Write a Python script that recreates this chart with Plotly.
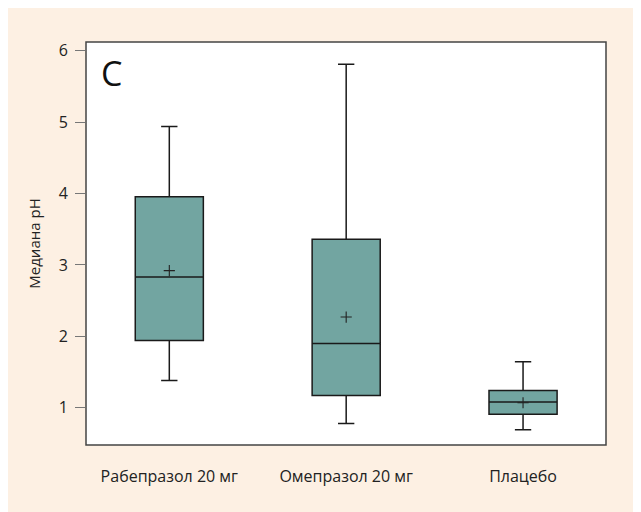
import plotly.graph_objects as go

categories = ["Рабепразол 20 мг", "Омепразол 20 мг", "Плацебо"]
lower_whisker = [1.38, 0.78, 0.69]
q1 = [1.94, 1.17, 0.91]
median = [2.83, 1.90, 1.08]
q3 = [3.955, 3.36, 1.24]
upper_whisker = [4.94, 5.81, 1.645]
means = [2.92, 2.27, 1.07]
y_ticks = [1, 2, 3, 4, 5, 6]

FONT = "Open Sans"
xpos = list(range(len(categories)))

fig = go.Figure()
fig.add_trace(go.Box(
    x=xpos, q1=q1, median=median, q3=q3,
    lowerfence=lower_whisker, upperfence=upper_whisker,
    width=0.385, whiskerwidth=0.24,
    fillcolor="#72a5a1", line=dict(color="#1a1a1a", width=1.5),
    boxpoints=False, hoverinfo="skip", showlegend=False,
))
fig.add_trace(go.Scatter(
    x=xpos, y=means, mode="markers",
    marker=dict(symbol="cross-thin", size=8, line=dict(color="#222", width=1.1)),
    showlegend=False, hoverinfo="skip",
))

fig.update_layout(
    width=641, height=512,
    margin=dict(l=78, r=43, t=34, b=75),
    paper_bgcolor="#fdf0e3", plot_bgcolor="white",
    font=dict(family=FONT, color="#222"),
    shapes=[
        dict(type="rect", xref="paper", yref="paper", x0=0, x1=1, y0=0, y1=1,
             fillcolor="rgba(0,0,0,0)", line=dict(color="#444", width=1.5), layer="above"),
    ],
    annotations=[
        dict(text="C", xref="paper", yref="paper", x=0.025, y=0.985, xanchor="left", yanchor="top",
             showarrow=False, font=dict(size=34, family=FONT, color="#111")),
    ],
)
fig.update_xaxes(
    range=[-0.471, 2.469], tickmode="array", tickvals=xpos, ticktext=categories,
    ticks="", showgrid=False, zeroline=False, showline=False,
    tickfont=dict(size=16, family=FONT, color="#222"), ticklabelstandoff=20,
)
fig.update_yaxes(
    range=[0.478, 6.122], tickmode="array", tickvals=y_ticks,
    ticks="outside", ticklen=10, tickcolor="#777", tickwidth=1.2,
    showgrid=False, zeroline=False, showline=False,
    tickfont=dict(size=16, family=FONT, color="#222"), ticklabelstandoff=4,
    title=dict(text="Медиана pH", font=dict(size=15, family=FONT, color="#222"), standoff=14),
)

fig.write_html("out.html")
